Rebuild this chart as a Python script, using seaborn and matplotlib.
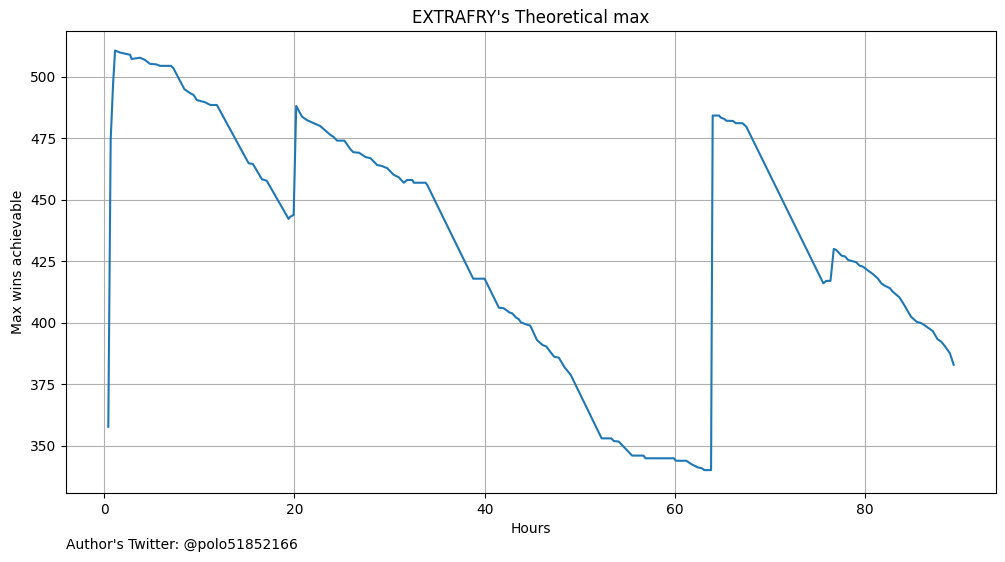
import matplotlib
matplotlib.use("Agg")
import matplotlib.pyplot as plt
import seaborn as sns
import pandas as pd

hours = [0.45, 0.7, 0.95, 1.16, 1.68, 2.74, 2.9, 3.79, 4.3, 4.84, 5.5, 5.9, 6.6, 7.05, 7.3,
         8.45, 9.05, 9.4, 9.76, 10.63, 11.16, 11.86, 15.2, 15.65, 16.6, 17.1, 19.4, 19.58, 19.93,
         20.2, 20.8, 21.3, 22.03, 22.7, 23.8, 24.1, 24.5, 25.26, 25.9, 26.2, 26.8, 27.5, 28.0,
         28.7, 29.2, 29.76, 30.45, 30.98, 31.5, 31.86, 32.4, 32.56, 33.8, 33.97, 38.8, 40.0,
         41.5, 42.0, 42.6, 42.9, 43.3, 43.6, 43.8, 44.3, 44.8, 45.5, 46.07, 46.5, 46.9, 47.3,
         47.8, 48.4, 49.05, 52.3, 53.3, 53.6, 54.1, 55.5, 56.7, 56.9, 59.9, 60.1, 61.2, 61.7,
         62.4, 62.8, 63.1, 63.8, 63.97, 64.06, 64.66, 64.8, 65.2, 65.4, 66.1, 66.4, 67.1, 67.5,
         75.6, 75.9, 76.35, 76.7, 76.95, 77.5, 77.9, 78.2, 79.05, 79.4, 79.76, 80.3, 80.8, 81.3,
         81.7, 82.03, 82.6, 82.9, 83.3, 83.6, 84.1, 84.8, 85.4, 85.9, 86.2, 86.6, 87.1, 87.6,
         87.99, 88.35, 88.9, 89.3]
max_wins = [357.8, 474.4, 497.0, 510.7, 509.9, 509.0, 507.3, 507.8, 506.9, 505.3, 505.1, 504.5,
            504.5, 504.5, 503.5, 495.0, 493.4, 492.7, 490.6, 489.7, 488.6, 488.6, 464.9, 464.6,
            458.4, 457.8, 442.3, 443.2, 443.9, 488.2, 483.9, 482.5, 481.2, 480.1, 476.4, 475.7,
            474.1, 474.1, 470.6, 469.4, 469.2, 467.4, 467.0, 464.2, 463.8, 462.9, 460.2, 459.2,
            457.0, 458.1, 458.1, 457.0, 457.0, 456.1, 418.0, 418.0, 406.2, 406.0, 404.3, 403.9,
            402.2, 401.5, 400.3, 399.5, 398.9, 393.1, 391.1, 390.4, 388.3, 386.3, 385.9, 382.0,
            378.9, 353.1, 353.1, 352.0, 351.8, 346.1, 346.1, 345.0, 345.0, 344.0, 344.0, 342.7,
            341.3, 341.0, 340.2, 340.2, 484.3, 484.3, 484.3, 483.5, 482.9, 482.2, 482.1, 481.2,
            481.2, 479.8, 416.1, 417.1, 417.1, 430.1, 429.7, 427.4, 427.0, 425.6, 424.7, 423.3,
            422.9, 421.3, 419.9, 418.2, 416.1, 415.2, 414.1, 412.7, 411.4, 410.4, 407.3, 402.6,
            400.5, 399.9, 399.2, 398.1, 396.7, 393.4, 392.4, 390.7, 387.7, 383.0]

df = pd.DataFrame({"Hours": hours, "Max wins achievable": max_wins})

fig, ax = plt.subplots(figsize=(10.05, 5.62), dpi=100)
fig.subplots_adjust(left=0.0657, right=0.991, top=0.945, bottom=0.1228)
sns.lineplot(data=df, x="Hours", y="Max wins achievable", ax=ax, color="#1f77b4",
             linewidth=1.5, sort=False, estimator=None)
ax.grid(True)
ax.set_title("EXTRAFRY's Theoretical max")
ax.set_xlabel("Hours")
ax.set_ylabel("Max wins achievable")
ax.set_xticks([0, 20, 40, 60, 80])
ax.set_yticks([350, 375, 400, 425, 450, 475, 500])
ax.set_ylim(330.9, 518.7)
fig.text(0.0657, 0.030, "Author's Twitter: @polo51852166", ha="left", va="center", fontsize=10)
fig.savefig("out.png", dpi=100)
